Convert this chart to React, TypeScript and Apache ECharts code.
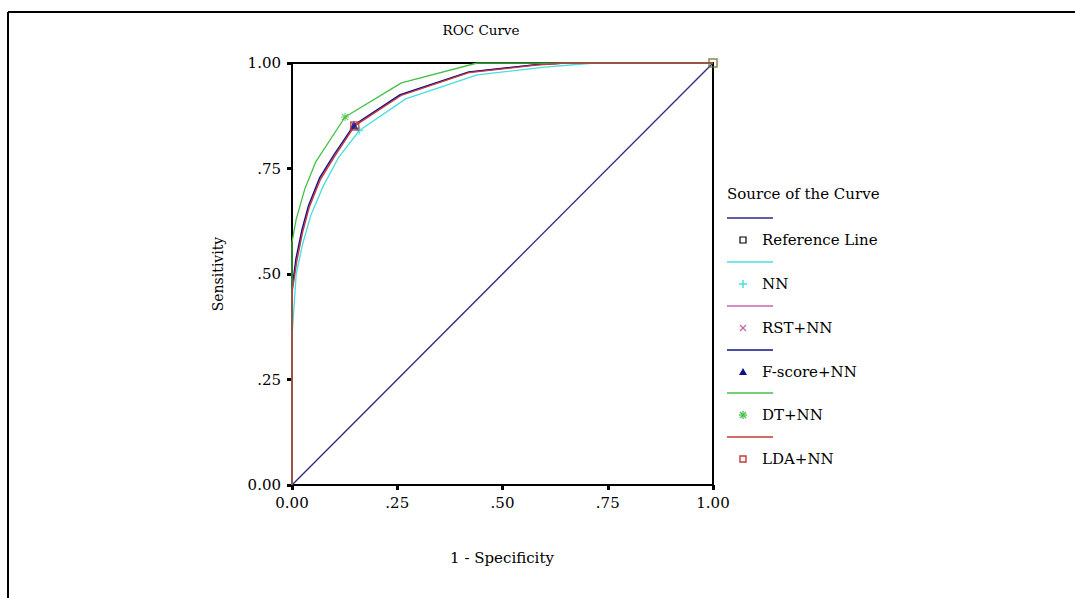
import React, { useEffect, useRef } from "react";
import * as echarts from "echarts";

// ---- data ----
const tickValues = [0, 0.25, 0.5, 0.75, 1];
const tickLabels = ["0.00", ".25", ".50", ".75", "1.00"];

const seriesNames = ["Reference Line", "NN", "RST+NN", "F-score+NN", "DT+NN", "LDA+NN"];
const seriesColors = ["#2a2a84", "#48dede", "#c866a8", "#10108a", "#44c044", "#c43a3a"];

const refX = [0, 1];
const refY = [0, 1];

const nnX = [0, 0, 0.01, 0.025, 0.045, 0.075, 0.11, 0.16, 0.27, 0.44, 0.6, 0.72, 1];
const nnY = [0, 0.35, 0.5, 0.57, 0.64, 0.71, 0.775, 0.84, 0.915, 0.972, 0.99, 1, 1];

const rstX = [0, 0, 0.01, 0.024, 0.04, 0.066, 0.1, 0.148, 0.258, 0.42, 0.58, 0.65, 1];
const rstY = [0, 0.46, 0.53, 0.6, 0.66, 0.725, 0.78, 0.852, 0.924, 0.978, 0.996, 1, 1];

const fscoreX = [0, 0, 0.009, 0.023, 0.039, 0.065, 0.099, 0.147, 0.257, 0.42, 0.58, 0.65, 1];
const fscoreY = [0, 0.465, 0.535, 0.603, 0.662, 0.727, 0.782, 0.853, 0.925, 0.979, 0.996, 1, 1];

const dtX = [0, 0, 0.01, 0.03, 0.056, 0.126, 0.26, 0.44, 1];
const dtY = [0, 0.575, 0.63, 0.7, 0.765, 0.872, 0.953, 1, 1];

const ldaX = [0, 0, 0.011, 0.025, 0.041, 0.067, 0.101, 0.149, 0.259, 0.42, 0.58, 0.65, 1];
const ldaY = [0, 0.455, 0.528, 0.598, 0.658, 0.723, 0.778, 0.851, 0.923, 0.977, 0.995, 1, 1];

// marker points drawn on the curves
const markerX = [1, 0.16, 0.148, 0.147, 0.126, 0.149];
const markerY = [1, 0.84, 0.852, 0.853, 0.872, 0.851];

const FONT = "DejaVu Serif";

function pairs(xs: number[], ys: number[]) {
  return xs.map((x, i) => [x, ys[i]]);
}

function legendMarker(kind: number, cx: number, cy: number, color: string): any[] {
  const s = 3;
  switch (kind) {
    case 0:
      return [{ type: "rect", shape: { x: cx - s, y: cy - s, width: 2 * s, height: 2 * s }, style: { fill: "#fff", stroke: "#000", lineWidth: 1.2 } }];
    case 1:
      return [
        { type: "line", shape: { x1: cx - 4, y1: cy, x2: cx + 4, y2: cy }, style: { stroke: color, lineWidth: 1.5 } },
        { type: "line", shape: { x1: cx, y1: cy - 4, x2: cx, y2: cy + 4 }, style: { stroke: color, lineWidth: 1.5 } },
      ];
    case 2:
      return [
        { type: "line", shape: { x1: cx - 3, y1: cy - 3, x2: cx + 3, y2: cy + 3 }, style: { stroke: color, lineWidth: 1.3 } },
        { type: "line", shape: { x1: cx - 3, y1: cy + 3, x2: cx + 3, y2: cy - 3 }, style: { stroke: color, lineWidth: 1.3 } },
      ];
    case 3:
      return [{ type: "polygon", shape: { points: [[cx, cy - 4], [cx - 4, cy + 3], [cx + 4, cy + 3]] }, style: { fill: color } }];
    case 4:
      return [
        { type: "line", shape: { x1: cx - 4, y1: cy, x2: cx + 4, y2: cy }, style: { stroke: color, lineWidth: 1.3 } },
        { type: "line", shape: { x1: cx, y1: cy - 4, x2: cx, y2: cy + 4 }, style: { stroke: color, lineWidth: 1.3 } },
        { type: "line", shape: { x1: cx - 3, y1: cy - 3, x2: cx + 3, y2: cy + 3 }, style: { stroke: color, lineWidth: 1.3 } },
        { type: "line", shape: { x1: cx - 3, y1: cy + 3, x2: cx + 3, y2: cy - 3 }, style: { stroke: color, lineWidth: 1.3 } },
      ];
    default:
      return [{ type: "rect", shape: { x: cx - s, y: cy - s, width: 2 * s, height: 2 * s }, style: { fill: "#fff", stroke: color, lineWidth: 1.4 } }];
  }
}

const symbolForSeries = [
  "rect",
  "path://M4,0 L6,0 L6,4 L10,4 L10,6 L6,6 L6,10 L4,10 L4,6 L0,6 L0,4 L4,4 Z",
  "path://M1,0 L5,4 L9,0 L10,1 L6,5 L10,9 L9,10 L5,6 L1,10 L0,9 L4,5 L0,1 Z",
  "triangle",
  "path://M4.3,0 L5.7,0 L5.7,4.3 L10,4.3 L10,5.7 L5.7,5.7 L5.7,10 L4.3,10 L4.3,5.7 L0,5.7 L0,4.3 L4.3,4.3 Z M1.5,0.5 L5,4 L8.5,0.5 L9.5,1.5 L6,5 L9.5,8.5 L8.5,9.5 L5,6 L1.5,9.5 L0.5,8.5 L4,5 L0.5,1.5 Z",
  "rect",
];

export default function App() {
  const ref = useRef<HTMLDivElement>(null);
  useEffect(() => {
    if (!ref.current) return;
    const chart = echarts.init(ref.current, undefined, { renderer: "svg" });
    const curveData = [
      pairs(refX, refY),
      pairs(nnX, nnY),
      pairs(rstX, rstY),
      pairs(fscoreX, fscoreY),
      pairs(dtX, dtY),
      pairs(ldaX, ldaY),
    ];
    const lineSeries = seriesNames.map((name, i) => ({
      name,
      type: "line",
      data: curveData[i],
      showSymbol: false,
      symbol: "none",
      lineStyle: { color: seriesColors[i], width: 1.3 },
      z: 2 + i,
    }));
    const markerSeries = seriesNames.map((name, i) => ({
      name: name + " marker",
      type: "scatter",
      data: [[markerX[i], markerY[i]]],
      symbol: symbolForSeries[i],
      symbolSize: i === 3 ? 9 : 8,
      itemStyle:
        i === 0 || i === 5
          ? { color: "rgba(0,0,0,0)", borderColor: i === 0 ? "#6a6a20" : seriesColors[i], borderWidth: 1.5 }
          : { color: seriesColors[i] },
      z: 10 + i,
    }));

    const legendX = 727;
    const lineYs = [218, 262, 306, 350, 393, 437];
    const legendGraphics: any[] = [
      { type: "text", x: legendX, y: 194, style: { text: "Source of the Curve", font: `15px '${FONT}'`, fill: "#000", verticalAlign: "middle" } },
    ];
    seriesNames.forEach((name, i) => {
      const ly = lineYs[i];
      legendGraphics.push({ type: "line", shape: { x1: legendX, y1: ly, x2: legendX + 46, y2: ly }, style: { stroke: seriesColors[i], lineWidth: 1.5 } });
      legendGraphics.push(...legendMarker(i, legendX + 16, ly + 22, seriesColors[i]));
      legendGraphics.push({ type: "text", x: legendX + 35, y: ly + 22, style: { text: name, font: `15px '${FONT}'`, fill: "#000", verticalAlign: "middle" } });
    });

    const labelStyle = {
      color: "#000",
      fontFamily: FONT,
      fontSize: 15,
      formatter: (v: number) => tickLabels[tickValues.indexOf(v)] ?? "",
    };

    chart.setOption({
      animation: false,
      backgroundColor: "#fff",
      grid: { left: 292, top: 63, width: 421, height: 422, show: true, borderColor: "#000", borderWidth: 2 },
      xAxis: {
        type: "value",
        min: 0,
        max: 1,
        interval: 0.25,
        axisLine: { show: true, lineStyle: { color: "#000", width: 2 } },
        axisTick: { show: true, length: 5, lineStyle: { color: "#000", width: 3 } },
        splitLine: { show: false },
        axisLabel: { margin: 10, ...labelStyle },
      },
      yAxis: {
        type: "value",
        min: 0,
        max: 1,
        interval: 0.25,
        axisLine: { show: true, lineStyle: { color: "#000", width: 2 } },
        axisTick: { show: true, length: 5, lineStyle: { color: "#000", width: 3 } },
        splitLine: { show: false },
        axisLabel: { margin: 11, ...labelStyle },
      },
      series: [...lineSeries, ...markerSeries],
      graphic: [
        { type: "line", shape: { x1: 8, y1: 12, x2: 1075, y2: 12 }, style: { stroke: "#000", lineWidth: 2 } },
        { type: "line", shape: { x1: 8, y1: 12, x2: 8, y2: 598 }, style: { stroke: "#000", lineWidth: 2 } },
        { type: "text", x: 481, y: 30, style: { text: "ROC Curve", font: `13.5px '${FONT}'`, fill: "#000", align: "center", verticalAlign: "middle" } },
        { type: "text", x: 502, y: 558, style: { text: "1 - Specificity", font: `15px '${FONT}'`, fill: "#000", align: "center", verticalAlign: "middle" } },
        { type: "text", x: 218, y: 274, rotation: Math.PI / 2, style: { text: "Sensitivity", font: `14px '${FONT}'`, fill: "#000", align: "center", verticalAlign: "middle" } },
        ...legendGraphics,
      ],
    });
    return () => chart.dispose();
  }, []);
  return <div ref={ref} style={{ position: "fixed", left: 0, top: 0, width: 1075, height: 598 }} />;
}
